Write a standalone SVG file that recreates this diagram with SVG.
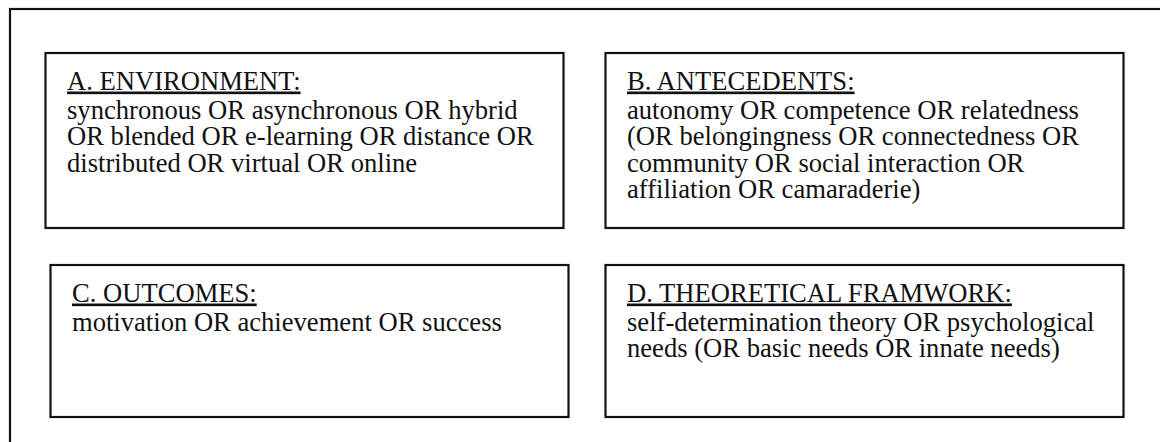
<svg xmlns="http://www.w3.org/2000/svg" width="1160" height="442" viewBox="0 0 1160 442">
<style>
  .frame { fill: none; stroke: #111; stroke-width: 2.2; }
  .box { fill: #fff; stroke: #111; stroke-width: 2.2; }
  .txt { font-family: "Liberation Serif", "Times New Roman", serif; font-size: 26.6px; fill: #111; }
  .title { text-decoration: underline; }
</style>
<rect width="1160" height="442" fill="#fff"/>
<rect class="frame" x="10" y="9" width="1200" height="500"/>
<g id="nodeA">
  <rect class="box" x="45.5" y="53" width="518" height="175"/>
  <text class="txt" x="67" y="89.5"><tspan class="title">A. ENVIRONMENT:</tspan></text>
  <text class="txt" x="67" y="119.3">synchronous OR asynchronous OR hybrid</text>
  <text class="txt" x="67" y="145.3">OR blended OR e-learning OR distance OR</text>
  <text class="txt" x="67" y="171.5">distributed OR virtual OR online</text>
</g>
<g id="nodeB">
  <rect class="box" x="605.5" y="53" width="518" height="175"/>
  <text class="txt" x="627" y="89.5"><tspan class="title">B. ANTECEDENTS:</tspan></text>
  <text class="txt" x="627" y="119.3">autonomy OR competence OR relatedness</text>
  <text class="txt" x="627" y="145.3">(OR belongingness OR connectedness OR</text>
  <text class="txt" x="627" y="171.5">community OR social interaction OR</text>
  <text class="txt" x="627" y="197.7">affiliation OR camaraderie)</text>
</g>
<g id="nodeC">
  <rect class="box" x="50.5" y="265" width="518" height="152"/>
  <text class="txt" x="72" y="301.5"><tspan class="title">C. OUTCOMES:</tspan></text>
  <text class="txt" x="72" y="331.3">motivation OR achievement OR success</text>
</g>
<g id="nodeD">
  <rect class="box" x="605.5" y="265" width="518" height="152"/>
  <text class="txt" x="627" y="301.5"><tspan class="title">D. THEORETICAL FRAMWORK:</tspan></text>
  <text class="txt" x="627" y="331.3">self-determination theory OR psychological</text>
  <text class="txt" x="627" y="357.3">needs (OR basic needs OR innate needs)</text>
</g>
<g id="connectors"/>
</svg>
